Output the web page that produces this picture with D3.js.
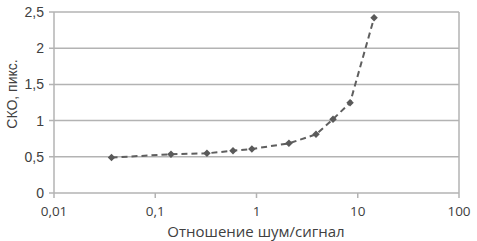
<!DOCTYPE html>
<html>
<head>
<meta charset="utf-8">
<script src="https://cdn.jsdelivr.net/npm/d3@7"></script>
<style>
  body { margin: 0; background: #fff; }
  svg { display: block; }
</style>
</head>
<body>
<svg id="chart" width="477" height="241"></svg>
<script>
// Data
const snr = [0.037, 0.143, 0.324, 0.586, 0.9, 2.09, 3.87, 5.7, 8.4, 14.5];
const sko = [0.49, 0.535, 0.548, 0.584, 0.608, 0.686, 0.81, 1.02, 1.247, 2.42];
const xTicks = [0.01, 0.1, 1, 10, 100];
const xTickLabels = ["0,01", "0,1", "1", "10", "100"];
const yTicks = [0, 0.5, 1, 1.5, 2, 2.5];
const yTickLabels = ["0", "0,5", "1", "1,5", "2", "2,5"];

const svg = d3.select("#chart");
const plotLeft = 54, plotRight = 459, plotTop = 12, plotBottom = 193;

const x = d3.scaleLog().domain([0.01, 100]).range([plotLeft, plotRight]);
const y = d3.scaleLinear().domain([0, 2.5]).range([plotBottom, plotTop]);

const grey = "#b3b3b3";
const textCol = "#404040";

// horizontal gridlines
svg.selectAll("line.grid")
    .data(yTicks)
    .join("line")
    .attr("class", "grid")
    .attr("x1", plotLeft - 5)
    .attr("x2", plotRight)
    .attr("y1", d => y(d))
    .attr("y2", d => y(d))
    .attr("stroke", grey)
    .attr("stroke-width", 1.5);

// left and right frame lines
svg.append("line")
    .attr("x1", plotLeft).attr("x2", plotLeft)
    .attr("y1", plotTop).attr("y2", plotBottom)
    .attr("stroke", grey).attr("stroke-width", 1.5);
svg.append("line")
    .attr("x1", plotRight).attr("x2", plotRight)
    .attr("y1", plotTop).attr("y2", plotBottom)
    .attr("stroke", grey).attr("stroke-width", 1.5);

// x ticks
svg.selectAll("line.xtick")
    .data(xTicks)
    .join("line")
    .attr("class", "xtick")
    .attr("x1", d => x(d)).attr("x2", d => x(d))
    .attr("y1", plotBottom).attr("y2", plotBottom + 5)
    .attr("stroke", grey).attr("stroke-width", 1.5);

// y tick labels
svg.selectAll("text.ylab")
    .data(yTicks)
    .join("text")
    .attr("class", "ylab")
    .attr("x", plotLeft - 10)
    .attr("y", d => y(d) + 5)
    .attr("text-anchor", "end")
    .attr("font-family", "Liberation Sans, Arial, sans-serif")
    .attr("font-size", 14)
    .attr("fill", textCol)
    .text((d, i) => yTickLabels[i]);

// x tick labels
svg.selectAll("text.xlab")
    .data(xTicks)
    .join("text")
    .attr("class", "xlab")
    .attr("x", d => x(d))
    .attr("y", 216)
    .attr("text-anchor", "middle")
    .attr("font-family", "Open Sans, sans-serif")
    .attr("font-size", 13.5)
    .attr("fill", textCol)
    .text((d, i) => xTickLabels[i]);

// axis titles
svg.append("text")
    .attr("x", 256)
    .attr("y", 237)
    .attr("text-anchor", "middle")
    .attr("font-family", "Open Sans, sans-serif")
    .attr("font-size", 15)
    .attr("fill", textCol)
    .text("Отношение шум/сигнал");

svg.append("text")
    .attr("transform", "translate(17,94) rotate(-90)")
    .attr("text-anchor", "middle")
    .attr("font-family", "Liberation Sans, Arial, sans-serif")
    .attr("font-size", 14)
    .attr("fill", textCol)
    .text("СКО, пикс.");

// data line
const pts = snr.map((v, i) => [v, sko[i]]);
const line = d3.line()
    .x(d => x(d[0]))
    .y(d => y(d[1]));

svg.append("path")
    .datum(pts)
    .attr("d", line)
    .attr("fill", "none")
    .attr("stroke", "#5f5f5f")
    .attr("stroke-width", 2)
    .attr("stroke-dasharray", "6,4");

// diamond markers
svg.selectAll("path.mark")
    .data(pts)
    .join("path")
    .attr("class", "mark")
    .attr("d", d3.symbol().type(d3.symbolDiamond2).size(36))
    .attr("transform", d => `translate(${x(d[0])},${y(d[1])})`)
    .attr("fill", "#5a5a5a");
</script>
</body>
</html>
